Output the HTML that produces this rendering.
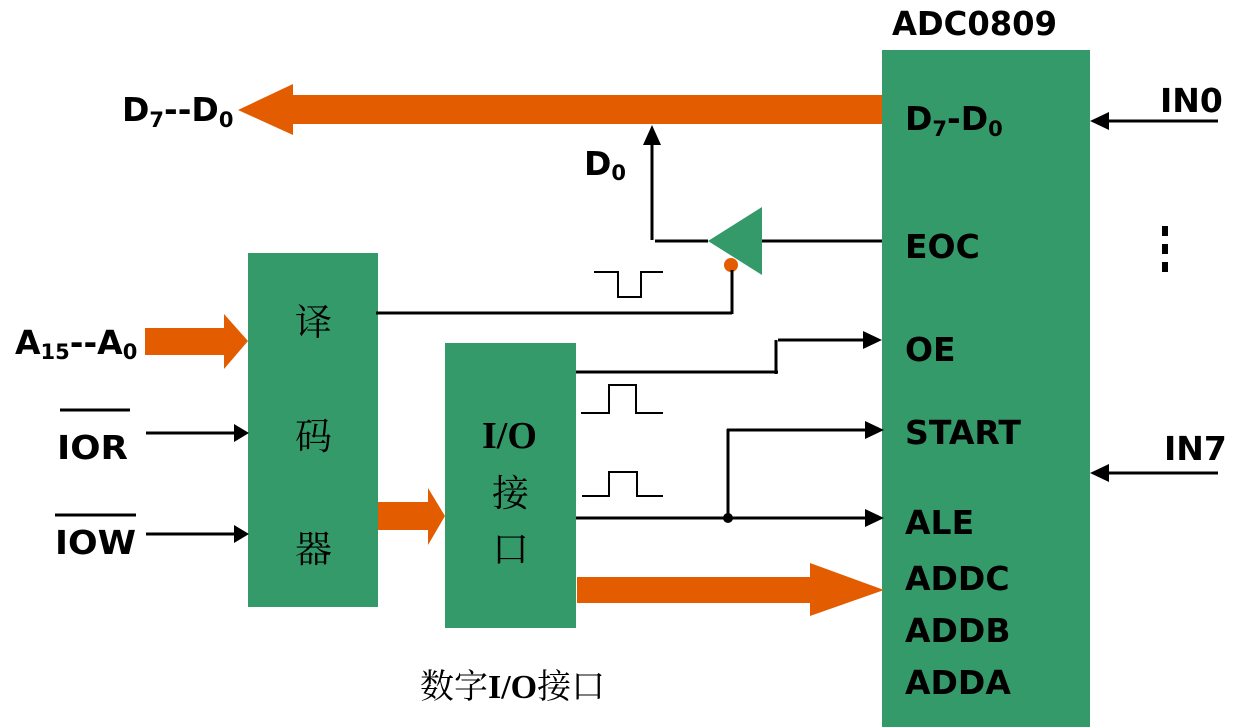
<!DOCTYPE html>
<html><head><meta charset="utf-8"><style>
html,body{margin:0;padding:0;background:#fff;}
svg{display:block;}
.t{font-family:"DejaVu Sans","Liberation Sans",sans-serif;font-weight:bold;font-size:33px;fill:#000;}
.s{font-size:21px;}
.c{font-family:"Noto Serif CJK SC","Liberation Serif",serif;font-size:37px;fill:#000;}
</style></head><body>
<svg width="1235" height="727" viewBox="0 0 1235 727" xmlns="http://www.w3.org/2000/svg">
<g fill="#359a69">
<rect x="882" y="50" width="208" height="677"/>
<rect x="248" y="253" width="130" height="354"/>
<rect x="445" y="343" width="131" height="285"/>
</g>
<g fill="#e35d00">
<polygon points="882,95 293,95 293,84 238,110 293,135 293,124 882,124"/>
<polygon points="145,328 224,328 224,314 248,341 224,369 224,355 145,355"/>
<polygon points="378,502 428,502 428,488 445,516 428,545 428,530 378,530"/>
<polygon points="577,577 810,577 810,563 884,590 810,616 810,603 577,603"/>
<circle cx="731" cy="265" r="7"/>
</g>
<polygon points="708,241 762,207 762,275" fill="#359a69"/>
<g stroke="#000" stroke-width="3" fill="none">
<line x1="652" y1="240" x2="652" y2="142"/>
<line x1="655" y1="241" x2="708" y2="241"/>
<line x1="762" y1="241" x2="882" y2="241"/>
<line x1="732" y1="270" x2="732" y2="314"/>
<line x1="376" y1="313" x2="732" y2="313"/>
<line x1="576" y1="372" x2="778" y2="372"/>
<line x1="776" y1="340" x2="776" y2="374"/>
<line x1="778" y1="340" x2="866" y2="340"/>
<line x1="728" y1="429" x2="728" y2="518"/>
<line x1="727" y1="430" x2="866" y2="430"/>
<line x1="576" y1="518" x2="866" y2="518"/>
<line x1="146" y1="433" x2="234" y2="433"/>
<line x1="146" y1="534" x2="234" y2="534"/>
<line x1="1218" y1="121" x2="1106" y2="121"/>
<line x1="1218" y1="473" x2="1106" y2="473"/>
<line x1="60" y1="410" x2="130" y2="410"/>
<line x1="55" y1="515" x2="136" y2="515"/>
</g>
<g stroke="#000" stroke-width="2" fill="none">
<polyline points="594,272 618,272 618,297 641,297 641,272 663,272"/>
<polyline points="581,413 609,413 609,385 636,385 636,413 663,413"/>
<polyline points="582,496 609,496 609,472 637,472 637,496 663,496"/>
</g>
<g fill="#000">
<polygon points="652,125 643,145 661,145"/>
<polygon points="882,340 863,331 863,349"/>
<polygon points="884,430 865,421 865,439"/>
<polygon points="884,518 865,509 865,527"/>
<polygon points="249,433 234,424 234,442"/>
<polygon points="249,534 234,525 234,543"/>
<polygon points="1090,121 1109,112 1109,130"/>
<polygon points="1090,473 1109,464 1109,482"/>
<circle cx="728" cy="518" r="5"/>
<rect x="1162" y="226" width="6" height="10"/>
<rect x="1162" y="244" width="6" height="10"/>
<rect x="1162" y="262" width="6" height="10"/>
</g>
<text class="t" x="892" y="35" textLength="165" lengthAdjust="spacingAndGlyphs">ADC0809</text>
<text class="t" x="122" y="121">D<tspan class="s" dy="6">7</tspan><tspan dy="-6">--D</tspan><tspan class="s" dy="6">0</tspan></text>
<text class="t" x="905" y="130">D<tspan class="s" dy="6">7</tspan><tspan dy="-6">-D</tspan><tspan class="s" dy="6">0</tspan></text>
<text class="t" x="584" y="175">D<tspan class="s" dy="5">0</tspan></text>
<text class="t" x="15" y="354">A<tspan class="s" dy="5">15</tspan><tspan dy="-5">--A</tspan><tspan class="s" dy="5">0</tspan></text>
<text class="t" x="57" y="459" textLength="71" lengthAdjust="spacingAndGlyphs">IOR</text>
<text class="t" x="55" y="554" textLength="81" lengthAdjust="spacingAndGlyphs">IOW</text>
<text class="t" x="905" y="258">EOC</text>
<text class="t" x="905" y="361">OE</text>
<text class="t" x="905" y="444" textLength="116" lengthAdjust="spacingAndGlyphs">START</text>
<text class="t" x="905" y="534">ALE</text>
<text class="t" x="905" y="590">ADDC</text>
<text class="t" x="905" y="642">ADDB</text>
<text class="t" x="905" y="694">ADDA</text>
<text class="t" x="1160" y="112">IN0</text>
<text class="t" x="1164" y="460">IN7</text>
<text class="c" x="295" y="335">译</text>
<text class="c" x="295" y="449">码</text>
<text class="c" x="295" y="562">器</text>
<text class="c" x="482" y="448" style="font-family:'Liberation Serif',serif;font-weight:bold;font-size:38px;">I/O</text>
<text class="c" x="492" y="506">接</text>
<text class="c" x="492" y="562">口</text>
<text class="c" x="420" y="698" style="font-size:34px;">数字<tspan style="font-family:'Liberation Serif',serif;font-weight:bold;">I/O</tspan>接口</text>
</svg>
</body></html>
